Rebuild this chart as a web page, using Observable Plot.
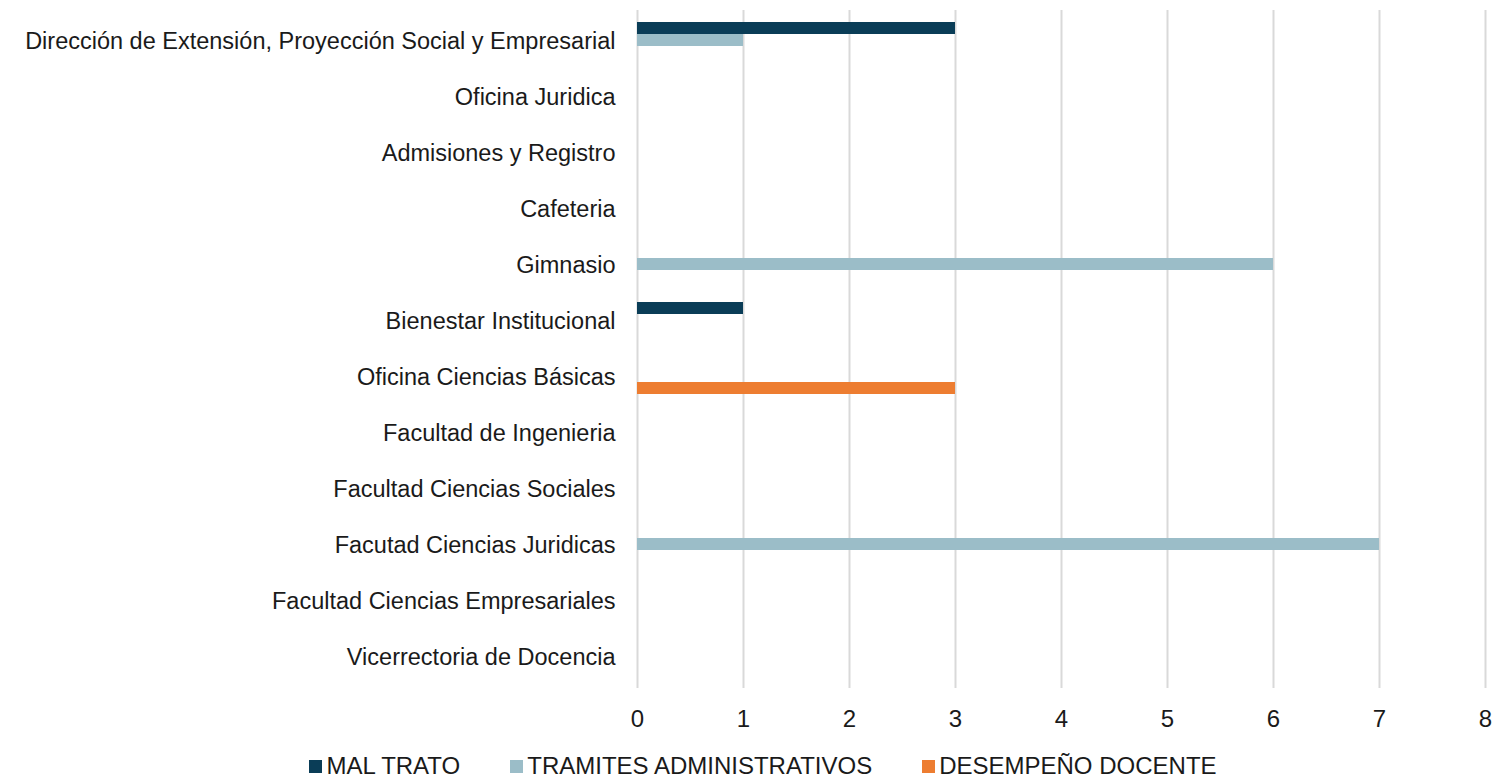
<!DOCTYPE html>
<html>
<head>
<meta charset="utf-8">
<script src="https://cdn.jsdelivr.net/npm/d3@7"></script>
<script src="https://cdn.jsdelivr.net/npm/@observablehq/plot@0.6"></script>
<style>
  html, body { margin: 0; padding: 0; background: #fff; }
  body { width: 1494px; height: 779px; overflow: hidden; font-family: "Liberation Sans", Arial, sans-serif; }
  #chart svg { display: block; }
  #legend { display: flex; justify-content: center; font-size: 24px; line-height: 28px; color: #1a1a1a; margin-top: 11px; padding-left: 32px; }
  .item { display: flex; align-items: center; margin: 0 25px; }
  .sw { width: 13px; height: 13px; margin-right: 4px; display: inline-block; }
</style>
</head>
<body>
<div id="chart"></div>
<div id="legend"></div>
<script>
const categories = [
  "Dirección de Extensión, Proyección Social y Empresarial",
  "Oficina Juridica",
  "Admisiones y Registro",
  "Cafeteria",
  "Gimnasio",
  "Bienestar Institucional",
  "Oficina Ciencias Básicas",
  "Facultad de Ingenieria",
  "Facultad Ciencias Sociales",
  "Facutad Ciencias Juridicas",
  "Facultad Ciencias Empresariales",
  "Vicerrectoria de Docencia"
];
const seriesNames = ["MAL TRATO", "TRAMITES ADMINISTRATIVOS", "DESEMPEÑO DOCENTE"];
const seriesColors = ["#0a3d57", "#9bbdc8", "#ed7d31"];
const malTrato  = [3, 0, 0, 0, 0, 1, 0, 0, 0, 0, 0, 0];
const tramites  = [1, 0, 0, 0, 6, 0, 0, 0, 0, 7, 0, 0];
const desempeno = [0, 0, 0, 0, 0, 0, 3, 0, 0, 0, 0, 0];
const xTicks = [0, 1, 2, 3, 4, 5, 6, 7, 8];

const seriesValues = [malTrato, tramites, desempeno];
const rows = [];
seriesNames.forEach((s, si) => {
  categories.forEach((c, ci) => rows.push({category: c, series: s, value: seriesValues[si][ci]}));
});

const offsets = [-12, 0, 12];
const bandInset = 22;

const marks = [
  Plot.gridX(xTicks, {stroke: "#d9d9d9", strokeWidth: 2, strokeOpacity: 1}),
  ...seriesNames.map((s, si) => Plot.barX(rows.filter(d => d.series === s && d.value > 0), {
    x: "value", y: "category", fill: seriesColors[si],
    dy: offsets[si] - 1, insetTop: bandInset, insetBottom: bandInset
  })),
  Plot.axisX(xTicks, {tickSize: 0, tickPadding: 21, fontSize: 24, tickFormat: d => String(d), fill: "#1a1a1a", label: null}),
  Plot.axisY({tickSize: 0, tickPadding: 22, fontSize: 23.5, fill: "#1a1a1a", label: null})
];

const chart = Plot.plot({
  width: 1494,
  height: 741,
  marginLeft: 637,
  marginRight: 9,
  marginTop: 10,
  marginBottom: 53,
  style: {fontFamily: "'Liberation Sans', Arial, sans-serif", color: "#1a1a1a", background: "#fff"},
  x: {domain: [0, 8], label: null},
  y: {domain: categories, padding: 0, label: null},
  marks
});
document.getElementById("chart").appendChild(chart);

const legend = document.getElementById("legend");
seriesNames.forEach((s, i) => {
  const it = document.createElement("div");
  it.className = "item";
  const sw = document.createElement("span");
  sw.className = "sw";
  sw.style.background = seriesColors[i];
  it.appendChild(sw);
  it.appendChild(document.createTextNode(s));
  legend.appendChild(it);
});
</script>
</body>
</html>
